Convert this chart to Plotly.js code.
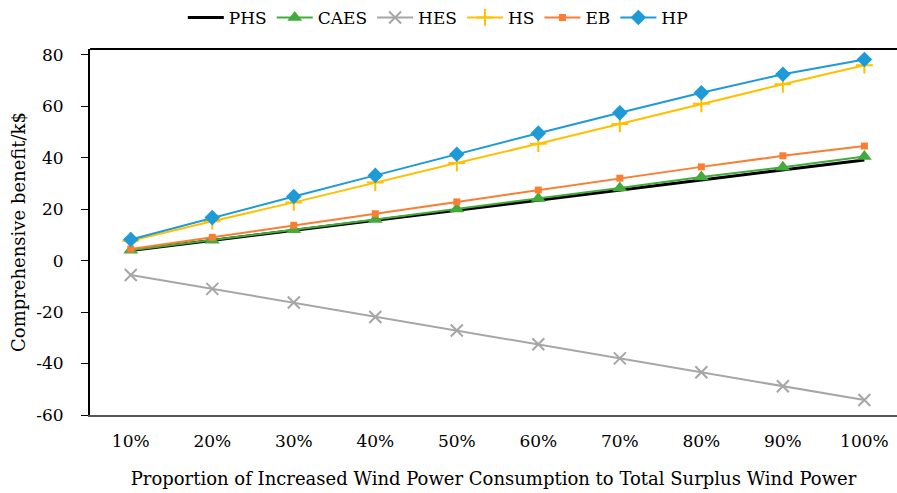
<!DOCTYPE html>
<html>
<head>
<meta charset="utf-8">
<script src="https://cdn.plot.ly/plotly-3.0.1.min.js"></script>
<style>html,body{margin:0;padding:0;background:#fff;}#chart{width:897px;height:493px;}</style>
</head>
<body>
<div id="chart"></div>
<script>
const categories = ["10%","20%","30%","40%","50%","60%","70%","80%","90%","100%"];
const seriesNames = ["PHS","CAES","HES","HS","EB","HP"];
const PHS  = [3.9, 7.8, 11.7, 15.6, 19.5, 23.4, 27.3, 31.2, 35.1, 39.1];
const CAES = [4.0, 7.9, 12.0, 16.0, 20.0, 24.1, 28.2, 32.5, 36.3, 40.4];
const HES  = [-5.6, -11.0, -16.3, -21.9, -27.2, -32.5, -38.0, -43.4, -48.8, -54.2];
const HS   = [7.7, 15.3, 22.6, 30.3, 37.9, 45.4, 53.1, 60.9, 68.5, 75.9];
const EB   = [4.5, 9.0, 13.7, 18.2, 22.8, 27.4, 32.0, 36.4, 40.7, 44.5];
const HP   = [8.2, 16.7, 24.9, 33.1, 41.3, 49.5, 57.4, 65.2, 72.4, 78.1];
const yTicks = [-60, -40, -20, 0, 20, 40, 60, 80];

const font = "'Palatino Linotype','Book Antiqua',Palatino,'DejaVu Serif',serif";
const values = [PHS, CAES, HES, HS, EB, HP];
const colors = ["#000000", "#42ab3c", "#a6a6a6", "#ffc000", "#f97d32", "#1e9ad6"];
const widths = [3, 2, 2, 2, 2, 2];
const markers = [
  {size: 1, symbol: "circle", opacity: 0},
  {size: 13, symbol: "triangle-up"},
  {size: 12, symbol: "x-thin-open", line: {width: 2, color: colors[2]}},
  {size: 12, symbol: "cross-thin-open", line: {width: 2, color: colors[3]}},
  {size: 7, symbol: "square"},
  {size: 12, symbol: "diamond"}
];
const traces = seriesNames.map((n, i) => ({
  type: "scatter",
  mode: i === 0 ? "lines" : "lines+markers",
  name: n,
  x: categories,
  y: values[i],
  line: {color: colors[i], width: widths[i]},
  marker: Object.assign({color: colors[i]}, markers[i])
}));

const layout = {
  width: 897, height: 493,
  margin: {l: 90, r: 0, t: 49, b: 78, autoexpand: false},
  paper_bgcolor: "#fff", plot_bgcolor: "#fff",
  font: {family: font, size: 17, color: "#000"},
  showlegend: true,
  legend: {orientation: "h", x: 0.115, xanchor: "left", y: 1.085, yanchor: "middle",
           font: {family: font, size: 17, color: "#000"}, itemwidth: 36, tracegroupgap: 0},
  xaxis: {
    type: "category", range: [-0.5, 9.4],
    showline: true, linecolor: "#555", linewidth: 2,
    ticks: "", showgrid: false, zeroline: false, ticklabelstandoff: 10,
    tickfont: {family: font, size: 17, color: "#000"},
    title: {text: "Proportion of Increased Wind Power Consumption to Total Surplus Wind Power",
            font: {family: font, size: 18, color: "#000"}, standoff: 22}
  },
  yaxis: {
    range: [-60, 82.2], tickvals: yTicks, ticktext: yTicks.map(String),
    showline: true, linecolor: "#000", linewidth: 2,
    ticks: "outside", ticklen: 7, tickcolor: "#000", tickwidth: 1,
    showgrid: false, zeroline: false, ticklabelstandoff: 14,
    tickfont: {family: font, size: 17, color: "#000"},
    title: {text: "Comprehensive benefit/k$", font: {family: font, size: 18, color: "#000"}, standoff: 6}
  },
  shapes: [{type: "line", xref: "paper", yref: "paper", x0: 0, x1: 1, y0: 1, y1: 1,
            line: {color: "#000", width: 2}}]
};
Plotly.newPlot("chart", traces, layout, {displayModeBar: false, staticPlot: true});
</script>
</body>
</html>
